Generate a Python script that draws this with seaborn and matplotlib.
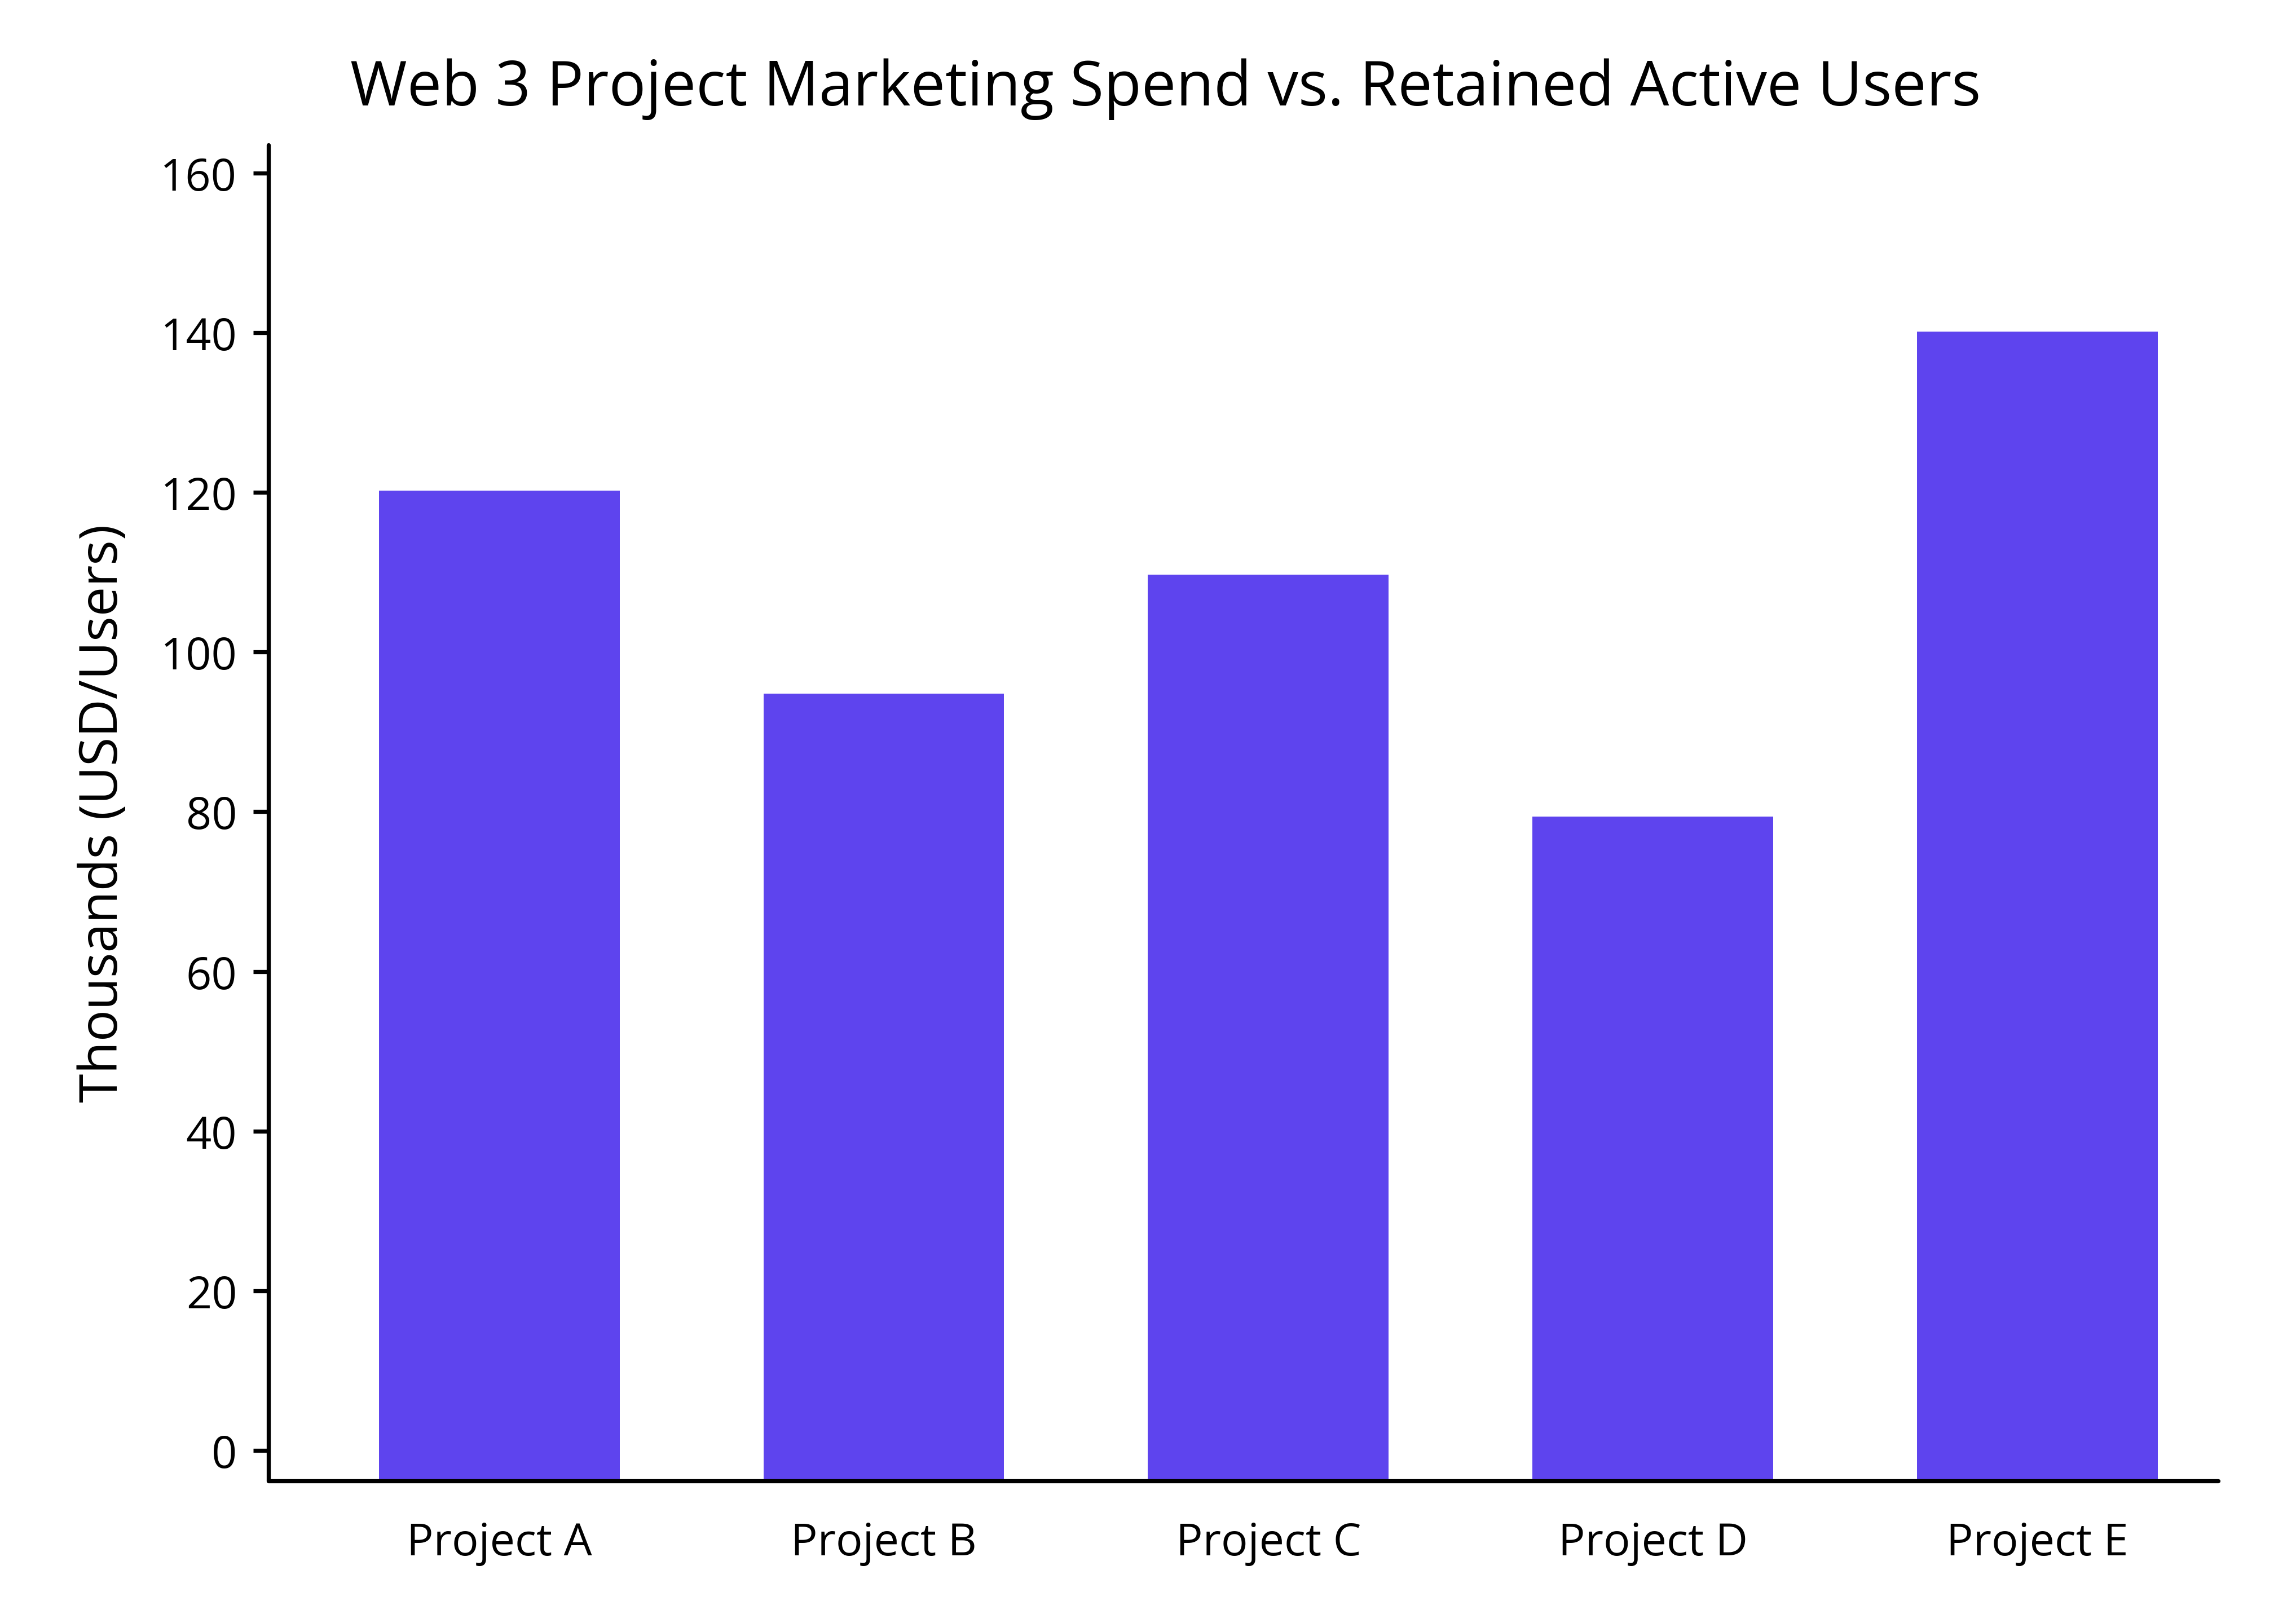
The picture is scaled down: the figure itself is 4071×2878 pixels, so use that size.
import matplotlib
matplotlib.use("Agg")
import matplotlib.pyplot as plt
import seaborn as sns
import pandas as pd

projects = ["Project A", "Project B", "Project C", "Project D", "Project E"]
values = [120.2, 94.8, 109.7, 79.4, 140.1]
y_ticks = [0, 20, 40, 60, 80, 100, 120, 140, 160]

title = "Web 3 Project Marketing Spend vs. Retained Active Users"
ylabel = "Thousands (USD/Users)"
bar_color = "#5E44EE"

sns.set_theme(style="white")
plt.rcParams["font.family"] = ["Open Sans", "DejaVu Sans"]

df = pd.DataFrame({"project": projects, "value": values})

W, H, DPI = 4071, 2879, 300
fig = plt.figure(figsize=(W / DPI, H / DPI), dpi=DPI)
ax = fig.add_axes([476 / W, 1 - 2627 / H, (3933 - 476) / W, (2627 - 258) / H])

sns.barplot(data=df, x="project", y="value", color=bar_color, saturation=1,
            width=0.626, linewidth=0, ax=ax)

y0, y1 = -3.8, 163.5
ax.set_xlim(-0.6, 4.47)
ax.set_ylim(y0, y1)
# bars reach down to the bottom spine, as in the reference
for p in ax.patches:
    top = p.get_y() + p.get_height()
    p.set_y(y0)
    p.set_height(top - y0)

ax.set_yticks(y_ticks)
ax.set_yticklabels([str(t) for t in y_ticks])
ax.set_xlabel("")
ax.set_ylabel(ylabel, fontsize=22.4, color="black", labelpad=13)

sns.despine(ax=ax)
for s in ["left", "bottom"]:
    ax.spines[s].set_linewidth(1.75)
    ax.spines[s].set_color("black")
    ax.spines[s].set_capstyle("round")

ax.tick_params(axis="y", length=6.4, width=1.75, color="black", pad=7,
               labelsize=19, labelcolor="black", left=True)
ax.tick_params(axis="x", length=0, pad=17, labelsize=19, labelcolor="black")
for t in ax.yaxis.get_ticklines():
    t.set_solid_capstyle("round")

fig.text(2067 / W, 1 - 187 / H, title, ha="center", va="baseline",
         fontsize=26.2, color="black")

fig.savefig("out.png", dpi=DPI)
